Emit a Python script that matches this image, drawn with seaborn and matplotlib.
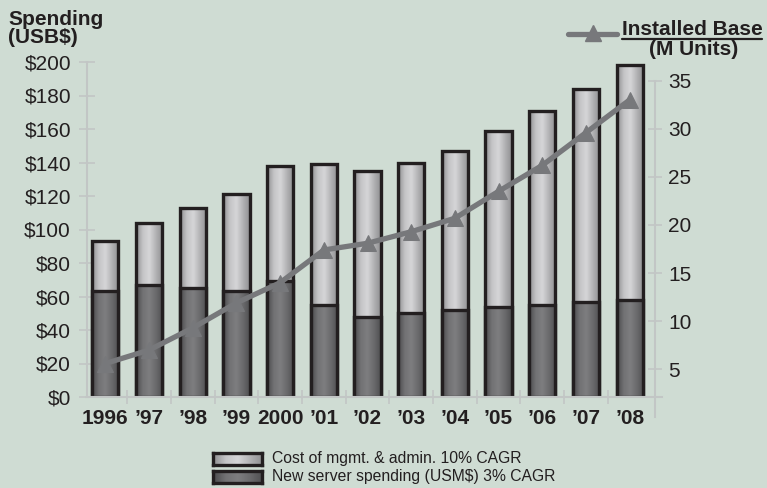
import numpy as np
import pandas as pd
import matplotlib
matplotlib.use("Agg")
import matplotlib.pyplot as plt
import seaborn as sns
from matplotlib.colors import LinearSegmentedColormap
from matplotlib.lines import Line2D
from matplotlib.ticker import FixedLocator

# Datos
years = ["1996", "\u201997", "\u201998", "\u201999", "2000", "\u201901", "\u201902",
         "\u201903", "\u201904", "\u201905", "\u201906", "\u201907", "\u201908"]
total_spending = [93, 104, 113, 121, 138, 139, 135, 140, 147, 159, 171, 184, 198]
new_server = [63, 67, 65, 63, 69, 55, 48, 50, 52, 54, 55, 57, 58]
installed_base = [5.6, 7.0, 9.3, 11.9, 14.0, 17.4, 18.1, 19.3, 20.7, 23.5, 26.2, 29.6, 33.0]

df = pd.DataFrame({"year": years, "total": total_spending, "server": new_server,
                   "base": installed_base, "pos": np.arange(len(years))})

bg = "#cfdcd3"
axis_gray = "#c2c6c5"
edge = "#231f20"
line_gray = "#77787b"

sns.set_theme(style="white")
plt.rcParams["font.family"] = ["Liberation Sans", "DejaVu Sans"]

fig = plt.figure(figsize=(7.67, 4.88), dpi=100, facecolor=bg)
ax = fig.add_axes([87 / 767, 1 - 397 / 488, (655 - 87) / 767, (397 - 62) / 488])
ax.set_facecolor(bg)

# Barras apiladas: primero el total (gris claro), luego el gasto en servidores (gris oscuro)
sns.barplot(data=df, x="year", y="total", color="#c0c0c0", width=0.6,
            edgecolor=edge, linewidth=2.4, saturation=1, ax=ax)
n_light = len(ax.patches)
sns.barplot(data=df, x="year", y="server", color="#6a6a6a", width=0.6,
            edgecolor=edge, linewidth=2.4, saturation=1, ax=ax)

light_cmap = LinearSegmentedColormap.from_list("light", ["#8e8e90", "#c4c4c6", "#d6d6d8", "#b2b2b4", "#909092"])
dark_cmap = LinearSegmentedColormap.from_list("dark", ["#4a4a4c", "#727274", "#7e7e80", "#6a6a6c", "#505052"])
grad = np.linspace(0, 1, 64).reshape(1, -1)

for i, p in enumerate(ax.patches):
    cmap = light_cmap if i < n_light else dark_cmap
    base_z = 1.0 if i < n_light else 1.2
    x0, y0, w, h = p.get_x(), p.get_y(), p.get_width(), p.get_height()
    p.set_facecolor("none")
    p.set_zorder(base_z + 0.1)
    im = ax.imshow(grad, cmap=cmap, aspect="auto", extent=[x0, x0 + w, y0, y0 + h],
                   zorder=base_z, interpolation="bicubic")
    im.set_clip_path(p)

ax.set_xlim(-0.42, 12.58)
ax.set_ylim(0, 200)
ax.set_xlabel("")
ax.set_ylabel("")

ax.set_yticks(range(0, 201, 20))
ax.set_yticklabels([f"${v}" for v in range(0, 201, 20)])
ax.tick_params(axis="y", direction="inout", length=11, width=1.2, color=axis_gray,
               pad=6, labelsize=15, labelcolor="#231f20", left=True)
ax.set_xticks(range(len(years)))
ax.set_xticklabels(years, fontweight="bold")
ax.tick_params(axis="x", length=0, pad=9, labelsize=15, labelcolor="#231f20")
ax.xaxis.set_minor_locator(FixedLocator(np.arange(0.5, 12, 1.0)))
ax.tick_params(axis="x", which="minor", direction="inout", length=10, width=1.2,
               color=axis_gray, bottom=True)

for s in ["top", "right"]:
    ax.spines[s].set_visible(False)
for s in ["left", "bottom"]:
    ax.spines[s].set_color(axis_gray)
    ax.spines[s].set_linewidth(1.5)
ax.spines["bottom"].set_bounds(-0.42, 12.75)

# Eje derecho: base instalada
ax2 = ax.twinx()
ax2.set_ylim(2.12, 36.94)
sns.lineplot(data=df, x="pos", y="base", ax=ax2, color=line_gray, linewidth=3.8,
             marker="^", markersize=11.5, markeredgecolor=line_gray, zorder=5)
ax2.set_xlim(-0.42, 12.58)
ax2.set_xlabel("")
ax2.set_ylabel("")
ax2.set_yticks(range(5, 36, 5))
ax2.tick_params(axis="y", direction="inout", length=10, width=1.2, color=axis_gray,
                pad=4.5, labelsize=15, labelcolor="#231f20", right=True)
for s in ["top", "left", "bottom"]:
    ax2.spines[s].set_visible(False)
ax2.spines["right"].set_color(axis_gray)
ax2.spines["right"].set_linewidth(1.5)
ax2.spines["right"].set_bounds(0, 35)

# Títulos de ejes
fig.text(8 / 767, 1 - 25 / 488, "Spending", ha="left", va="baseline",
         fontsize=15, fontweight="bold", color="#231f20")
fig.text(8 / 767, 1 - 43 / 488, "(USB$)", ha="left", va="baseline",
         fontsize=15, fontweight="bold", color="#231f20")

t = fig.text(692 / 767, 1 - 35 / 488, "Installed Base", ha="center", va="baseline",
             fontsize=15, fontweight="bold", color="#231f20")
fig.text(694 / 767, 1 - 55 / 488, "(M Units)", ha="center", va="baseline",
         fontsize=15, fontweight="bold", color="#231f20")
fig.canvas.draw()
bb = t.get_window_extent()
fig.add_artist(Line2D([bb.x0 / 767, bb.x1 / 767], [1 - 38.5 / 488, 1 - 38.5 / 488],
                      transform=fig.transFigure, color="#231f20", linewidth=1.6))
fig.add_artist(Line2D([568 / 767, 617 / 767], [1 - 34 / 488, 1 - 34 / 488],
                      transform=fig.transFigure, color=line_gray, linewidth=3.8))
fig.add_artist(Line2D([593 / 767], [1 - 33 / 488], transform=fig.transFigure,
                      color=line_gray, marker="^", markersize=11.5, linestyle="none"))

# Leyenda de las barras
legend_items = [("Cost of mgmt. & admin. 10% CAGR", light_cmap, 452),
                ("New server spending (USM$) 3% CAGR", dark_cmap, 470)]
for label, cmap, ytop in legend_items:
    lax = fig.add_axes([213 / 767, 1 - (ytop + 13) / 488, 49 / 767, 12 / 488])
    lax.imshow(grad, cmap=cmap, aspect="auto", interpolation="bicubic")
    lax.set_xticks([])
    lax.set_yticks([])
    for s in lax.spines.values():
        s.set_color(edge)
        s.set_linewidth(2.4)
    fig.text(272 / 767, 1 - (ytop + 6.5) / 488, label, ha="left", va="center",
             fontsize=11.3, color="#231f20")

fig.savefig("out.png", dpi=100, facecolor=bg)
